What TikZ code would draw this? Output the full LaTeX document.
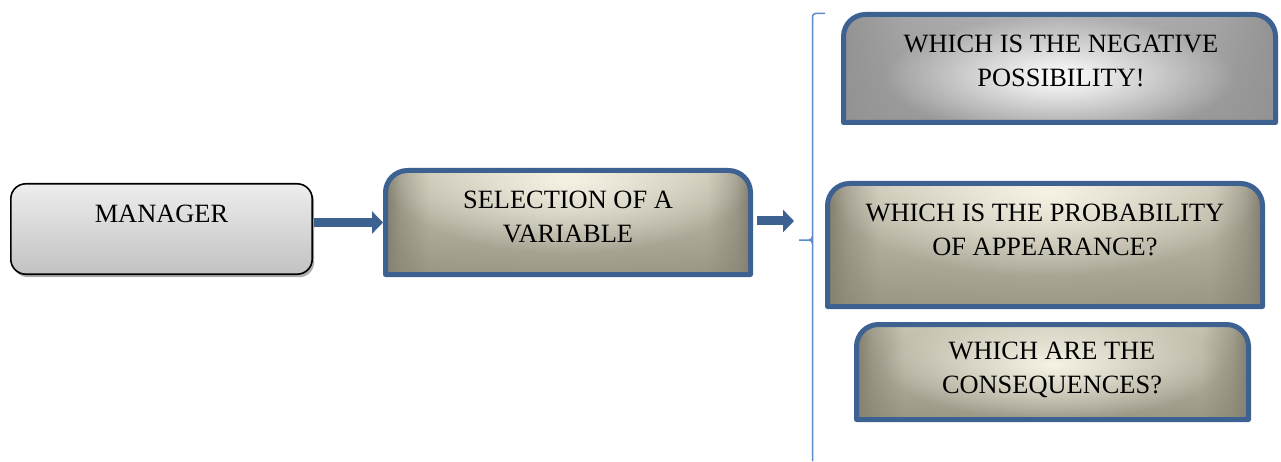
\documentclass[tikz,border=0pt]{standalone}
\usepackage{fontspec}
\setmainfont{Liberation Serif}
\usetikzlibrary{arrows.meta,shadows,fadings}
\definecolor{boxblue}{HTML}{3D6190}
\definecolor{bracecol}{HTML}{5B8AC6}
\definecolor{khL}{HTML}{F6F3E5}
\definecolor{khE}{HTML}{807D6D}
\definecolor{khD}{HTML}{A29F8F}
\definecolor{khM}{HTML}{C8C5B4}
\definecolor{khC}{HTML}{D0CDBC}
\definecolor{khB}{HTML}{858272}
\definecolor{grE}{HTML}{939393}
\definecolor{grM}{HTML}{A6A6A6}
\definecolor{grC}{HTML}{B4B4B4}
\pgfdeclarehorizontalshading{khh}{100bp}{color(0bp)=(khE); color(25bp)=(khE); color(27bp)=(khD); color(31bp)=(khM); color(50bp)=(khC); color(69bp)=(khM); color(73bp)=(khD); color(75bp)=(khE); color(100bp)=(khE)}
\pgfdeclarehorizontalshading{grh}{100bp}{color(0bp)=(grE); color(25bp)=(grE); color(32bp)=(grM); color(50bp)=(grC); color(68bp)=(grM); color(75bp)=(grE); color(100bp)=(grE)}
\tikzfading[name=glowfade, inner color=transparent!0, outer color=transparent!100]
\tikzfading[name=bdark, top color=transparent!100, middle color=transparent!100, bottom color=transparent!30]
\newcommand{\myshape}[2]{(#1.south west) -- ([yshift=-#2]#1.north west) arc[start angle=180,end angle=90,radius=#2] -- ([xshift=-#2]#1.north east) arc[start angle=90,end angle=0,radius=#2] -- (#1.south east) -- cycle}
% #1 node, #2 width, #3 height, #4 base shading, #5 glow colour, #6 glow centre offset below top, #7 glow half width, #8 glow half height, #9 bottom colour
\newcommand{\mygbox}[9]{%
  \path[shading=#4] \myshape{#1}{22pt};
  \begin{scope}
    \clip \myshape{#1}{22pt};
    \fill[#9,path fading=bdark,fit fading=true] (#1.south west) rectangle (#1.north east);
    \fill[#5,path fading=glowfade,fit fading=true]
      ([shift={(-#7,-#6-#8)}]#1.north) rectangle ([shift={(#7,-#6+#8)}]#1.north);
  \end{scope}
  \draw[boxblue,line width=5pt,line join=round] \myshape{#1}{22pt};}
\begin{document}
\begin{tikzpicture}[x=1pt,y=1pt,
  frame/.style={draw=none,inner sep=0pt,outer sep=0pt,rectangle},
  label/.style={inner sep=0pt,align=center,font=\fontsize{26.4}{34}\selectfont,text=black},
  bluearrow/.style={boxblue,line width=9pt,-{Triangle[length=11pt,width=22pt]}},
  brace/.style={bracecol,line width=1.5pt}]
\useasboundingbox (0,0) rectangle (1281,461);
% Manager box
\node[frame,minimum width=301.4pt,minimum height=90.4pt,rounded corners=15pt,
  draw=black,line width=1.6pt,top color=black!7,bottom color=black!24,
  drop shadow={shadow xshift=2pt,shadow yshift=-3pt,fill=black!45,opacity=0.7}] (m) at (161.5,232) {};
\node[label] (mt) at (161.5,247) {MANAGER};
% frames of the other boxes
\node[frame,minimum width=365pt,minimum height=104pt] (s) at (568,238.5) {};
\node[frame,minimum width=432pt,minimum height=108pt] (n) at (1059.5,392.5) {};
\node[frame,minimum width=435pt,minimum height=123pt] (p) at (1045,216) {};
\node[frame,minimum width=392pt,minimum height=95pt] (c) at (1052.5,89) {};
\mygbox{s}{365}{104}{khh}{khL}{8}{185}{75}{khB}
\mygbox{n}{432}{108}{grh}{white}{62}{175}{60}{grE}
\mygbox{p}{435}{123}{khh}{khL}{8}{215}{85}{khB}
\mygbox{c}{392}{95}{khh}{khL}{40}{170}{55}{khB}
\node[label] (st) at (568,244) {SELECTION OF A\\VARIABLE};
\node[label] (nt) at (1061,400.5) {WHICH IS THE NEGATIVE\\POSSIBILITY!};
\node[label] (pt) at (1045,231) {WHICH IS THE PROBABILITY\\OF APPEARANCE?};
\node[label] (ct) at (1052,91.5) {WHICH ARE THE\\CONSEQUENCES?};
% arrows
\coordinate (a2) at (794,240);
\draw[bluearrow,shorten <=2pt,shorten >=2.5pt] (m.east |- s.west) -- (s.west);
\draw[bluearrow,shorten <=6.5pt] (s.east |- a2) -- (a2);
% brace
\coordinate (bt) at (825,447.5);
\coordinate (bb) at (812.5,0);
\coordinate (bm) at (799,221);
\draw[brace] (bt) -- (815.5,447.5) to[out=180,in=90] (812.5,444.5) -- (bb);
\draw[brace] (bm) -- (809,221) to[out=0,in=-90] (812.5,224.5);
\draw[brace] (809,221) to[out=0,in=90] (812.5,217.5);
\end{tikzpicture}
\end{document}
